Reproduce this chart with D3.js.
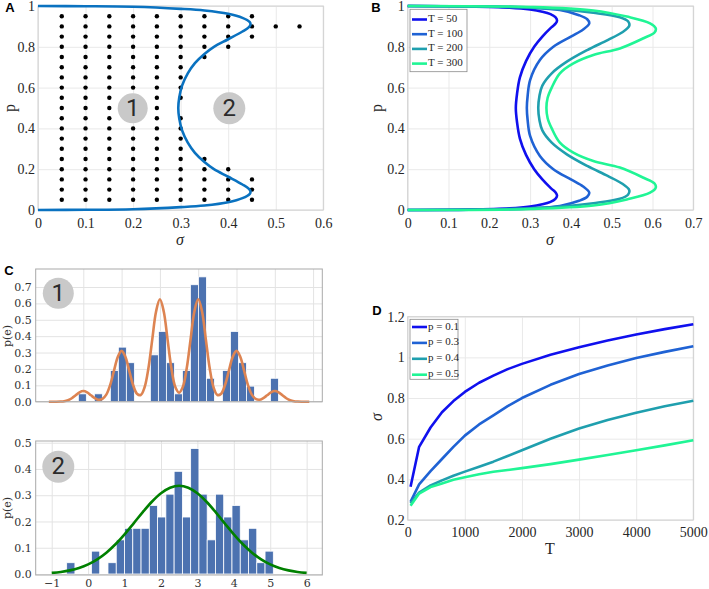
<!DOCTYPE html>
<html><head><meta charset="utf-8">
<script src="https://cdn.jsdelivr.net/npm/d3@7"></script>
<style>body{margin:0;background:#fff}svg{display:block}</style>
</head><body>
<script>
// ---------------- DATA ----------------
// Panel A: boundary curve (sigma, p)
const curveA = [[0,0],[0.1,0.001],[0.2,0.004],[0.3,0.014],[0.35,0.022],[0.4,0.038],[0.43,0.058],[0.445,0.078],[0.447,0.09],[0.443,0.105],[0.43,0.125],[0.4,0.163],[0.37,0.2],[0.35,0.235],[0.33,0.28],[0.315,0.33],[0.303,0.39],[0.297,0.45],[0.295,0.5],
 [0.297,0.55],[0.303,0.61],[0.315,0.67],[0.33,0.72],[0.35,0.765],[0.37,0.8],[0.4,0.837],[0.43,0.875],[0.443,0.895],[0.447,0.91],[0.445,0.922],[0.43,0.942],[0.4,0.962],[0.35,0.978],[0.3,0.986],[0.2,0.996],[0.1,0.999],[0,1]];
// Panel A: simulated points (columns of sigma, rows of p)
const dotSigma = [0.05,0.1,0.15,0.2,0.25,0.3,0.35,0.4,0.45,0.5,0.55];
const allRows = [0.05,0.1,0.15,0.2,0.25,0.3,0.35,0.4,0.45,0.5,0.55,0.6,0.65,0.7,0.75,0.8,0.85,0.9,0.95];
const dotRows = [allRows, allRows, allRows, allRows, allRows,
 [0.05,0.1,0.15,0.2,0.25,0.3,0.35,0.4,0.45,0.55,0.6,0.65,0.7,0.75,0.8,0.85,0.9,0.95],
 [0.05,0.1,0.15,0.2,0.25,0.75,0.8,0.85,0.9,0.95],
 [0.05,0.1,0.15,0.2,0.8,0.85,0.9,0.95],
 [0.05,0.1,0.15,0.85,0.9,0.95],
 [0.9],[0.9]];

// Panel B: boundary curves for several T
const seriesB = ["T = 50","T = 100","T = 200","T = 300"];
const colors = ["#1010ee","#1f62d4","#1f9fae","#20f595"];
const curveB50 = [[0,0],[0.15,0.002],[0.25,0.008],[0.3,0.017],[0.33,0.028],[0.35,0.04],[0.362,0.055],[0.366,0.07],[0.363,0.085],[0.352,0.105],[0.33,0.15],[0.31,0.2],[0.29,0.27],[0.275,0.35],[0.268,0.43],[0.265,0.5],
 [0.268,0.57],[0.275,0.65],[0.29,0.73],[0.31,0.8],[0.33,0.85],[0.352,0.895],[0.363,0.915],[0.366,0.93],[0.362,0.945],[0.35,0.96],[0.33,0.972],[0.3,0.983],[0.25,0.992],[0.15,0.998],[0,1]];
const curveB100 = [[0,0],[0.2,0.003],[0.3,0.008],[0.373,0.02],[0.42,0.045],[0.44,0.065],[0.445,0.085],[0.43,0.115],[0.4,0.15],[0.357,0.2],[0.324,0.265],[0.3,0.363],[0.294,0.44],[0.292,0.5],
 [0.294,0.56],[0.3,0.637],[0.324,0.735],[0.357,0.8],[0.4,0.85],[0.43,0.885],[0.445,0.915],[0.44,0.935],[0.42,0.955],[0.373,0.98],[0.3,0.992],[0.2,0.997],[0,1]];
const curveB200 = [[0,0],[0.25,0.005],[0.38,0.017],[0.455,0.033],[0.52,0.055],[0.54,0.075],[0.543,0.098],[0.525,0.13],[0.49,0.167],[0.44,0.216],[0.39,0.273],[0.353,0.33],[0.33,0.39],[0.323,0.44],[0.32,0.5],
 [0.323,0.56],[0.33,0.61],[0.353,0.67],[0.39,0.727],[0.44,0.784],[0.49,0.833],[0.525,0.87],[0.543,0.902],[0.54,0.925],[0.52,0.945],[0.455,0.967],[0.38,0.983],[0.25,0.995],[0,1]];
const curveB300 = [[0,0],[0.3,0.005],[0.455,0.022],[0.537,0.052],[0.594,0.085],[0.608,0.11],[0.605,0.13],[0.578,0.158],[0.52,0.208],[0.455,0.24],[0.406,0.281],[0.373,0.33],[0.353,0.4],[0.343,0.45],[0.34,0.5],
 [0.343,0.55],[0.353,0.6],[0.373,0.67],[0.406,0.719],[0.455,0.76],[0.52,0.792],[0.578,0.842],[0.605,0.87],[0.608,0.89],[0.594,0.915],[0.537,0.948],[0.455,0.978],[0.3,0.995],[0,1]];
const curvesB = [curveB50, curveB100, curveB200, curveB300];

// Panel C: histograms
const hist1Start = -0.13, hist1Width = 0.209;
const hist1Density = [0.048,0,0.048,0,0.19,0.333,0.238,0,0,0.286,0.429,0.238,0.048,0.19,0.714,0.762,0.143,0,0.19,0.429,0.238,0.095,0,0,0.143];
const kdeStart = -0.9, kdeStep = 0.1;
const kde1 = [0,0,0,0.001,0.003,0.009,0.021,0.039,0.057,0.065,0.057,0.039,0.022,0.012,0.017,0.043,0.101,0.188,0.273,0.31,0.273,0.188,0.102,0.049,0.041,0.088,0.204,0.379,0.551,0.625,0.551,0.379,0.204,0.091,0.055,0.091,0.204,0.379,0.551,0.625,0.551,0.379,0.204,0.088,0.041,0.049,0.102,0.188,0.273,0.31,0.273,0.188,0.101,0.043,0.017,0.012,0.022,0.039,0.057,0.065,0.057,0.039,0.021,0.009,0.003,0.001,0,0,0];
const hist2Start = -0.59, hist2Width = 0.227;
const hist2Density = [0.043,0,0,0.087,0,0.043,0.13,0.174,0.174,0.174,0.261,0.217,0.304,0.391,0.217,0.478,0.304,0.13,0.304,0.217,0.261,0.13,0.174,0.043,0.087];
const fitStart = -1, fitStep = 0.25;
const fit2 = [0.0044,0.0079,0.0138,0.023,0.0366,0.0558,0.0813,0.1133,0.1512,0.193,0.2356,0.2752,0.3075,0.3286,0.336,0.3286,0.3075,0.2752,0.2356,0.193,0.1512,0.1133,0.0813,0.0558,0.0366,0.023,0.0138,0.0079,0.0044];

// Panel D: sigma vs T
const seriesD = ["p = 0.1","p = 0.3","p = 0.4","p = 0.5"];
const Tvals = [50,200,400,600,800,1000,1250,1500,1750,2000,2500,3000,3500,4000,4500,5000];
const sigP01 = [0.364,0.56,0.655,0.73,0.785,0.83,0.875,0.91,0.942,0.968,1.013,1.05,1.083,1.112,1.139,1.163];
const sigP03 = [0.29,0.375,0.44,0.5,0.56,0.615,0.67,0.715,0.76,0.8,0.865,0.918,0.96,0.997,1.027,1.055];
const sigP04 = [0.282,0.335,0.37,0.395,0.418,0.438,0.462,0.487,0.515,0.543,0.6,0.65,0.692,0.728,0.76,0.787];
const sigP05 = [0.27,0.33,0.362,0.38,0.398,0.41,0.425,0.437,0.446,0.455,0.475,0.497,0.52,0.543,0.567,0.592];
const seriesDVals = [sigP01, sigP03, sigP04, sigP05];

// ---------------- DRAWING ----------------
const svg = d3.select("body").append("svg").attr("width",709).attr("height",589);
const SERIF = "'Liberation Serif','Times New Roman',serif";
const SANS = "'Liberation Sans',Arial,sans-serif";
const fmt = d => String(+d.toFixed(2));

function matlabAxes(x, y, xt, yt, xPad) {
  const g = svg.append("g");
  const [y0, y1] = y.range(), [x0, x1] = x.range();
  g.append("g").attr("transform",`translate(0,${y0})`)
   .call(d3.axisBottom(x).tickValues(xt).tickSize(-(y0-y1)).tickFormat(""))
   .call(s=>{s.select(".domain").remove(); s.selectAll("line").attr("stroke","#e9e9e9");});
  g.append("g").attr("transform",`translate(${x0},0)`)
   .call(d3.axisLeft(y).tickValues(yt).tickSize(-(x1-x0)).tickFormat(""))
   .call(s=>{s.select(".domain").remove(); s.selectAll("line").attr("stroke","#e9e9e9");});
  g.append("rect").attr("x",x0).attr("y",y1).attr("width",x1-x0).attr("height",y0-y1)
   .attr("fill","none").attr("stroke","#cfcfcf").attr("stroke-width",1);
  g.append("g").attr("transform",`translate(0,${y0})`)
   .call(d3.axisBottom(x).tickValues(xt).tickSize(0).tickPadding(xPad).tickFormat(fmt))
   .call(s=>{s.select(".domain").remove(); s.selectAll("text").attr("font-family",SERIF).attr("font-size",14).attr("fill","#262626");});
  g.append("g").attr("transform",`translate(${x0},0)`)
   .call(d3.axisLeft(y).tickValues(yt).tickSize(0).tickPadding(3).tickFormat(fmt))
   .call(s=>{s.select(".domain").remove(); s.selectAll("text").attr("font-family",SERIF).attr("font-size",14).attr("fill","#262626");});
  return g;
}
function label(x, y, t, opts={}) {
  const e = svg.append("text").attr("x",x).attr("y",y).text(t)
    .attr("font-family",opts.family||SERIF).attr("font-size",opts.size||15)
    .attr("fill",opts.fill||"#262626").attr("text-anchor",opts.anchor||"middle")
    .attr("dominant-baseline","middle");
  if (opts.italic) e.attr("font-style","italic");
  if (opts.bold) e.attr("font-weight","bold");
  if (opts.rotate) e.attr("transform",`rotate(-90,${x},${y})`);
  return e;
}
function badge(cx, cy, r, t) {
  svg.append("circle").attr("cx",cx).attr("cy",cy).attr("r",r).attr("fill","#c9c9c9");
  svg.append("text").attr("x",cx).attr("y",cy+1).text(t).attr("text-anchor","middle")
    .attr("dominant-baseline","middle").attr("font-family","Roboto,'Noto Sans',sans-serif")
    .attr("font-size",24).attr("fill","#2b2b2b");
}
const ticks = (a,b,s) => d3.range(Math.round((b-a)/s)+1).map(i => +(a+i*s).toFixed(4));

// ----- Panel A -----
const xA = d3.scaleLinear([0,0.6],[38,323.3]);
const yA = d3.scaleLinear([0,1],[210,6]);
matlabAxes(xA, yA, ticks(0,0.6,0.1), ticks(0,1,0.2), 8);
const dotsA = dotSigma.flatMap((s,i) => dotRows[i].map(p => [s,p]));
svg.append("g").selectAll("circle").data(dotsA).join("circle")
  .attr("cx",d=>xA(d[0])).attr("cy",d=>yA(d[1])).attr("r",2.2).attr("fill","#000");
svg.append("path").datum(curveA)
  .attr("d", d3.line().x(d=>xA(d[0])).y(d=>yA(d[1])).curve(d3.curveCatmullRom.alpha(0.5)))
  .attr("fill","none").attr("stroke","#0a72c0").attr("stroke-width",2.6);
badge(132.7,108.3,15,"1");
badge(229.3,108.3,16,"2");
label(180,241,"σ",{italic:true,size:16});
label(11,108,"p",{rotate:true,size:16});
label(10,9,"A",{family:SANS,bold:true,size:13,fill:"#000"});

// ----- Panel B -----
const xB = d3.scaleLinear([0,0.7],[407.7,693.3]);
const yB = d3.scaleLinear([0,1],[210,6]);
matlabAxes(xB, yB, ticks(0,0.7,0.1), ticks(0,1,0.2), 8);
curvesB.forEach((c,i) => svg.append("path").datum(c)
  .attr("d", d3.line().x(d=>xB(d[0])).y(d=>yB(d[1])).curve(d3.curveCatmullRom.alpha(0.5)))
  .attr("fill","none").attr("stroke",colors[i]).attr("stroke-width",2.6));
label(550,241,"σ",{italic:true,size:16});
label(378,108,"p",{rotate:true,size:16});
label(376,9,"B",{family:SANS,bold:true,size:13,fill:"#000"});
function legend(x, y, w, h, names, step, y0) {
  svg.append("rect").attr("x",x).attr("y",y).attr("width",w).attr("height",h)
    .attr("fill","#fff").attr("stroke","#8a8a8a").attr("stroke-width",0.8);
  names.forEach((n,i) => {
    const yy = y0 + i*step;
    svg.append("line").attr("x1",x+2).attr("x2",x+17).attr("y1",yy).attr("y2",yy)
      .attr("stroke",colors[i]).attr("stroke-width",2.6);
    label(x+18, yy, n, {anchor:"start", size:11});
  });
}
legend(410,9.3,57,62.4,seriesB,14.7,19.5);

// ----- Panel C -----
function seabornAxes(x, y, xt, yt, showX) {
  const [y0, y1] = y.range(), [x0, x1] = x.range();
  const g = svg.append("g");
  g.append("g").attr("transform",`translate(0,${y0})`)
   .call(d3.axisBottom(x).tickValues(xt).tickSize(-(y0-y1)).tickFormat(""))
   .call(s=>{s.select(".domain").remove(); s.selectAll("line").attr("stroke","#e3e3e3");});
  g.append("g").attr("transform",`translate(${x0},0)`)
   .call(d3.axisLeft(y).tickValues(yt).tickSize(-(x1-x0)).tickFormat(""))
   .call(s=>{s.select(".domain").remove(); s.selectAll("line").attr("stroke","#e3e3e3");});
  g.append("g").attr("transform",`translate(${x0},0)`)
   .call(d3.axisLeft(y).tickValues(yt).tickSize(0).tickPadding(4).tickFormat(d3.format(".1f")))
   .call(s=>{s.select(".domain").remove(); s.selectAll("text").attr("font-family","'DejaVu Serif',serif").attr("font-size",11).attr("fill","#333");});
  if (showX) g.append("g").attr("transform",`translate(0,${y0})`)
   .call(d3.axisBottom(x).tickValues(xt).tickSize(0).tickPadding(4).tickFormat(d3.format("d")))
   .call(s=>{s.select(".domain").remove(); s.selectAll("text").attr("font-family","'DejaVu Serif',serif").attr("font-size",11).attr("fill","#333");});
  return g;
}
function frame(x, y) {
  const [y0, y1] = y.range(), [x0, x1] = x.range();
  svg.append("rect").attr("x",x0).attr("y",y1).attr("width",x1-x0).attr("height",y0-y1)
    .attr("fill","none").attr("stroke","#a9a9a9").attr("stroke-width",1);
}
// top
const xC1 = d3.scaleLinear([-1.243,6.24],[35.7,322.3]);
const yC1 = d3.scaleLinear([0,0.81],[401.7,269]);
seabornAxes(xC1, yC1, d3.range(0,7), ticks(0,0.7,0.1), false);
svg.append("g").selectAll("rect").data(hist1Density).join("rect")
  .attr("x",(d,i)=>xC1(hist1Start+i*hist1Width)).attr("width",xC1(hist1Width)-xC1(0))
  .attr("y",d=>yC1(d)).attr("height",d=>yC1(0)-yC1(d))
  .attr("fill","#4c72b0").attr("stroke","#fff").attr("stroke-width",0.8);
svg.append("path").datum(kde1)
  .attr("d", d3.line().x((d,i)=>xC1(kdeStart+i*kdeStep)).y(d=>yC1(d)).curve(d3.curveCatmullRom.alpha(0.5)))
  .attr("fill","none").attr("stroke","#dd8452").attr("stroke-width",2.6);
frame(xC1, yC1);
badge(58.3,293.3,15.5,"1");
label(8,336,"p(e)",{rotate:true,size:11,family:"'DejaVu Serif',serif",fill:"#333"});
label(9,272,"C",{family:SANS,bold:true,size:13,fill:"#000"});
// bottom
const xC2 = d3.scaleLinear([-1.44,6.43],[35.7,322.3]);
const yC2 = d3.scaleLinear([-0.0038,0.5065],[575,441]);
seabornAxes(xC2, yC2, d3.range(-1,7), ticks(0,0.5,0.1), true);
svg.append("g").selectAll("rect").data(hist2Density).join("rect")
  .attr("x",(d,i)=>xC2(hist2Start+i*hist2Width)).attr("width",xC2(hist2Width)-xC2(0))
  .attr("y",d=>yC2(d)).attr("height",d=>yC2(0)-yC2(d))
  .attr("fill","#4c72b0").attr("stroke","#fff").attr("stroke-width",0.8);
svg.append("path").datum(fit2)
  .attr("d", d3.line().x((d,i)=>xC2(fitStart+i*fitStep)).y(d=>yC2(d)).curve(d3.curveCatmullRom.alpha(0.5)))
  .attr("fill","none").attr("stroke","#008000").attr("stroke-width",2.6);
frame(xC2, yC2);
badge(58.3,466.7,16,"2");
label(8,508,"p(e)",{rotate:true,size:11,family:"'DejaVu Serif',serif",fill:"#333"});

// ----- Panel D -----
const xD = d3.scaleLinear([0,5000],[407.7,693.3]);
const yD = d3.scaleLinear([0.2,1.2],[520,316.7]);
matlabAxes(xD, yD, ticks(0,5000,1000), ticks(0.2,1.2,0.2), 7);
seriesDVals.forEach((vals,i) => svg.append("path").datum(vals)
  .attr("d", d3.line().x((d,j)=>xD(Tvals[j])).y(d=>yD(d)))
  .attr("fill","none").attr("stroke",colors[i]).attr("stroke-width",2.6).attr("stroke-linejoin","round"));
legend(410,319.3,48,60,seriesD,15.9,327);
label(550,550,"T",{size:16});
label(378,417,"σ",{rotate:true,italic:true,size:16});
label(377,312,"D",{family:SANS,bold:true,size:13,fill:"#000"});
</script>
</body></html>
